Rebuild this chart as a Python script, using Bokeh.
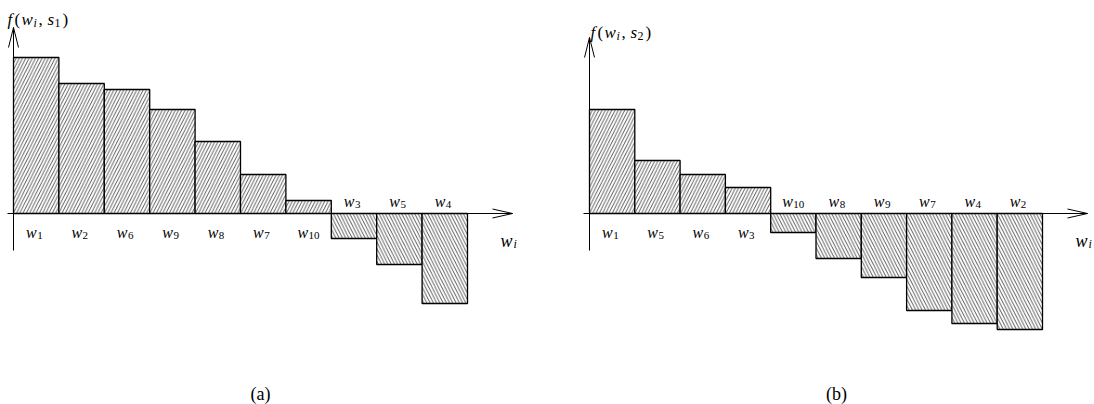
import numpy as np
from bokeh.plotting import figure
from bokeh.layouts import row
from bokeh.models import Range1d, ColumnDataSource
from bokeh.core.properties import value
from bokeh.embed import file_html
from bokeh.resources import INLINE

# ---- data ----
left_labels = ["1", "2", "6", "9", "8", "7", "10", "3", "5", "4"]
left_values = [1.56, 1.30, 1.24, 1.04, 0.72, 0.39, 0.13, -0.25, -0.51, -0.90]
right_labels = ["1", "5", "6", "3", "10", "8", "9", "7", "4", "2"]
right_values = [1.04, 0.53, 0.39, 0.26, -0.19, -0.45, -0.64, -0.97, -1.10, -1.16]
series_index = ["1", "2"]
captions = ["(a)", "(b)"]

W, H = 547, 404
PY = 100.0      # pixels per value unit
Y0 = 213        # pixel row of the horizontal axis
SERIF = "serif"


def panel(labels, values, x0, px, ytip, ybot, xstart, xtip, sidx, cap, cap_x,
          flab_x, flab_y, wlab_x):
    xr = Range1d(-x0 / px, (W - x0) / px)
    yr = Range1d(-(H - Y0) / PY, Y0 / PY)
    p = figure(width=W, height=H, x_range=xr, y_range=yr, output_backend="svg",
               toolbar_location=None, x_axis_type=None, y_axis_type=None,
               min_border=0, outline_line_color=None, background_fill_color="white",
               border_fill_color="white")
    p.grid.visible = False

    def X(sx):
        return (sx - x0) / px

    def Y(sy):
        return (Y0 - sy) / PY

    n = len(values)
    idx = np.arange(n)
    vals = np.array(values, dtype=float)
    pos = vals > 0
    src = ColumnDataSource(dict(
        left=idx, right=idx + 1,
        top=np.maximum(vals, 0), bottom=np.minimum(vals, 0),
        hatch=["/" if v > 0 else "\\" for v in vals],
        xc=idx + 0.5,
        ly=np.where(pos, Y(232), Y(201)),
        sub=labels,
        dxw=[0.5 if len(s) == 1 else -0.5 for s in labels],
        dxs=[1.0 if len(s) == 1 else 0.0 for s in labels],
    ))
    p.quad(left="left", right="right", top="top", bottom="bottom", source=src,
           fill_color="white", line_color="black", line_width=1.3,
           hatch_pattern="hatch", hatch_color="#444444", hatch_scale=6.5,
           hatch_weight=0.9)

    # axes with open arrow heads
    p.line([0, 0], [Y(ybot), Y(ytip)], line_color="black", line_width=1)
    p.line([X(xstart), X(xtip)], [0, 0], line_color="black", line_width=1)
    p.multi_line(
        [[-5 / px, 0, 5 / px], [X(xtip - 20), X(xtip), X(xtip - 20)]],
        [[Y(ytip + 20), Y(ytip), Y(ytip + 20)], [4.5 / PY, 0, -4.5 / PY]],
        line_color="black", line_width=1)

    # bar labels w_k
    p.text(x="xc", y="ly", text=value("w"), x_offset="dxw", source=src,
           text_align="right", text_baseline="alphabetic",
           text_font=value(SERIF), text_font_style="italic", text_font_size="16px",
           text_color="black")
    p.text(x="xc", y="ly", text="sub", x_offset="dxs", y_offset=3, source=src,
           text_align="left", text_baseline="alphabetic",
           text_font=value(SERIF), text_font_size="11px", text_color="black")

    # axis label w_i
    p.text(x=[X(wlab_x)], y=[Y(240)], text=["w"], text_align="left",
           text_baseline="alphabetic", text_font=value(SERIF),
           text_font_style="italic", text_font_size="18px", text_color="black")
    p.text(x=[X(wlab_x)], y=[Y(240)], text=["i"], x_offset=13, y_offset=3,
           text_align="left", text_baseline="alphabetic", text_font=value(SERIF),
           text_font_style="italic", text_font_size="12px", text_color="black")

    # y label f(w_i, s_k)
    fx, fy = X(flab_x), Y(flab_y)
    p.text(x=[fx] * 3, y=[fy] * 3, text=["f", "w", "s"], x_offset=[0, 14, 40],
           text_align="left", text_baseline="alphabetic", text_font=value(SERIF),
           text_font_style="italic", text_font_size="17px", text_color="black")
    p.text(x=[fx] * 3, y=[fy] * 3, text=["(", ",", ")"], x_offset=[7, 31, 55],
           text_align="left", text_baseline="alphabetic", text_font=value(SERIF),
           text_font_size="17px", text_color="black")
    p.text(x=[fx], y=[fy], text=["i"], x_offset=26, y_offset=3,
           text_align="left", text_baseline="alphabetic", text_font=value(SERIF),
           text_font_style="italic", text_font_size="12px", text_color="black")
    p.text(x=[fx], y=[fy], text=[sidx], x_offset=47, y_offset=3,
           text_align="left", text_baseline="alphabetic", text_font=value(SERIF),
           text_font_size="12px", text_color="black")

    # caption
    p.text(x=[X(cap_x)], y=[Y(393)], text=[cap], text_align="center",
           text_baseline="alphabetic", text_font=value(SERIF),
           text_font_size="18px", text_color="black")
    return p


p1 = panel(left_labels, left_values, x0=13, px=45.4, ytip=27, ybot=250,
           xstart=7, xtip=512, sidx=series_index[0], cap=captions[0], cap_x=260,
           flab_x=7, flab_y=19, wlab_x=500)
p2 = panel(right_labels, right_values, x0=42, px=45.3, ytip=37, ybot=250,
           xstart=36, xtip=540, sidx=series_index[1], cap=captions[1], cap_x=289,
           flab_x=43, flab_y=32, wlab_x=528)

layout = row(p1, p2)
open("out.html", "w").write(file_html(layout, INLINE))
